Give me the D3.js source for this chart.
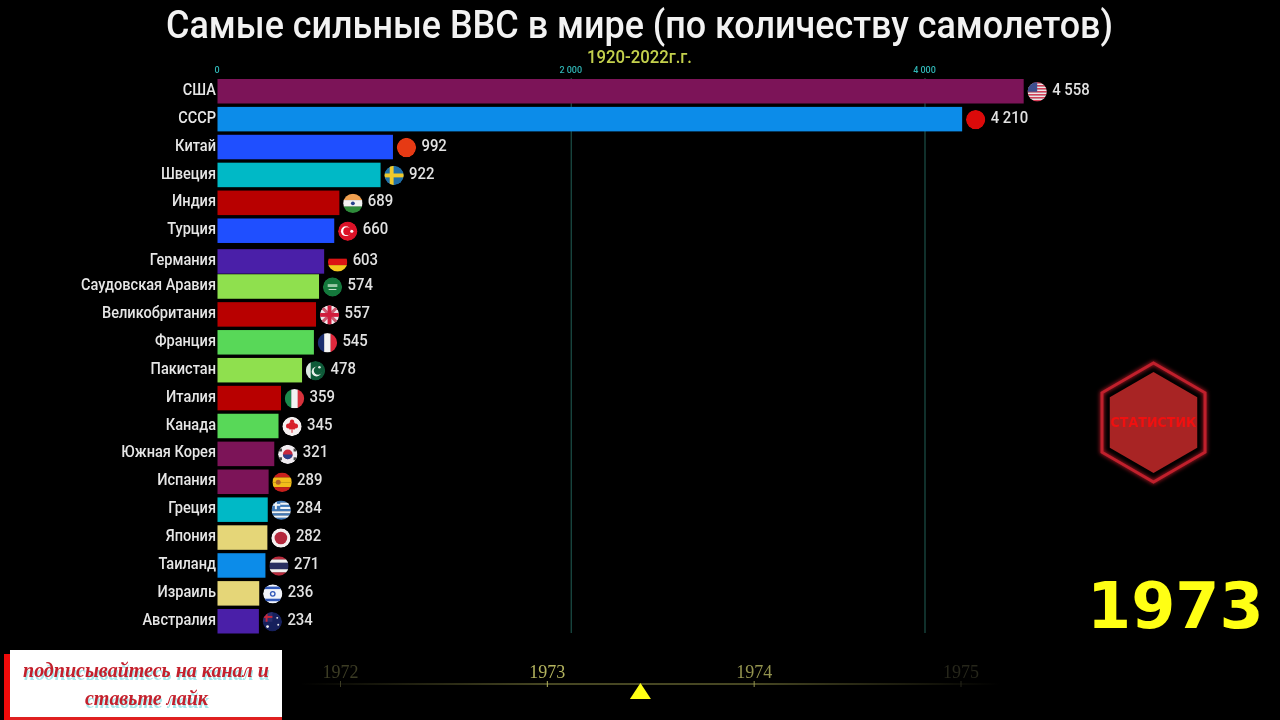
<!DOCTYPE html>
<html lang="ru">
<head>
<meta charset="utf-8">
<title>Самые сильные ВВС в мире</title>
<script src="https://cdn.jsdelivr.net/npm/d3@7"></script>
<style>
  html, body { margin: 0; padding: 0; background: #000; overflow: hidden; }
  svg { display: block; filter: blur(0.4px); }
  text { font-family: Roboto, sans-serif; }
</style>
</head>
<body>
<div id="chart"></div>
<script>
const countries = ['США', 'СССР', 'Китай', 'Швеция', 'Индия', 'Турция', 'Германия', 'Саудовская Аравия', 'Великобритания', 'Франция', 'Пакистан', 'Италия', 'Канада', 'Южная Корея', 'Испания', 'Греция', 'Япония', 'Таиланд', 'Израиль', 'Австралия'];
const aircraft = [4558, 4210, 992, 922, 689, 660, 603, 574, 557, 545, 478, 359, 345, 321, 289, 284, 282, 271, 236, 234];
// rank is fractional where a bar was caught mid-swap in the frame
const ranks = [0, 1, 2, 3, 4, 5, 6.1, 7, 8, 9, 10, 11, 12, 13, 14, 15, 16, 17, 18, 19];
const barColors = ['#7c1458', '#0c8ce9', '#1f4fff', '#00b9c6', '#b80000', '#1f4fff', '#4a1fa8', '#8fe04e', '#b80000', '#58d858', '#8fe04e', '#b80000', '#58d858', '#7c1458', '#7c1458', '#00b9c6', '#e5d678', '#0c8ce9', '#e5d678', '#4a1fa8'];
const flagCodes = ['us', 'su', 'cn', 'se', 'in', 'tr', 'de', 'sa', 'gb', 'fr', 'pk', 'it', 'ca', 'kr', 'es', 'gr', 'jp', 'th', 'il', 'au'];
const xTicks = [0, 2000, 4000];
const years = [1972, 1973, 1974, 1975];
const yearColors = ['#3c3c24', '#b4b45e', '#94944f', '#26261a'];
const currentYear = 1973;
const cursorYear = 1973.45;

const width = 1280;
const height = 720;

const svg = d3.select('#chart')
  .append('svg')
  .attr('width', width)
  .attr('height', height);

const defs = svg.append('defs');

svg.append('rect')
  .attr('width', width)
  .attr('height', height)
  .attr('fill', '#000');

const condensedText = (sel, len) => sel
  .attr('textLength', len)
  .attr('lengthAdjust', 'spacingAndGlyphs');

svg.append('text')
  .attr('x', 166)
  .attr('y', 38)
  .attr('fill', '#f2f2f2')
  .attr('font-size', 38)
  .attr('font-weight', 500)
  .text('Самые сильные ВВС в мире (по количеству самолетов)')
  .call(condensedText, 947);

svg.append('text')
  .attr('x', 587)
  .attr('y', 63)
  .attr('fill', '#c3d04c')
  .attr('font-size', 18)
  .attr('font-weight', 500)
  .text('1920-2022г.г.')
  .call(condensedText, 105);

const x = d3.scaleLinear()
  .domain([0, 4000])
  .range([217.5, 925]);

const y = d3.scaleLinear()
  .domain([0, 19])
  .range([79, 609]);

const barHeight = 24.5;

const xAxis = d3.axisTop(x)
  .tickValues(xTicks)
  .tickSize(0)
  .tickPadding(2)
  .tickFormat(d => d3.format(',')(d).replace(',', ' '));

const axisG = svg.append('g')
  .attr('transform', 'translate(0, 75)')
  .call(xAxis);

axisG.select('.domain').remove();
axisG.selectAll('text')
  .attr('fill', '#2fb3b3')
  .attr('font-size', 9)
  .attr('font-weight', 500)
  .attr('font-family', 'Roboto, sans-serif')
  .attr('dx', -1);

svg.append('g')
  .selectAll('line')
  .data(xTicks.slice(1))
  .join('line')
  .attr('x1', d => x(d))
  .attr('x2', d => x(d))
  .attr('y1', 78)
  .attr('y2', 633)
  .attr('stroke', '#1c5048')
  .attr('stroke-width', 1.2);

const rows = countries.map((name, i) => ({
  name,
  value: aircraft[i],
  rank: ranks[i],
  color: barColors[i],
  flag: flagCodes[i],
}));

svg.append('g')
  .selectAll('rect')
  .data(rows)
  .join('rect')
  .attr('x', x(0))
  .attr('y', d => y(d.rank))
  .attr('width', d => x(d.value) - x(0))
  .attr('height', barHeight)
  .attr('fill', d => d.color);

svg.append('g')
  .selectAll('text')
  .data(rows)
  .join('text')
  .attr('x', 216)
  .attr('y', d => y(d.rank) + barHeight / 2 - 2)
  .attr('dy', '0.35em')
  .attr('text-anchor', 'end')
  .attr('fill', '#e6e6e6')
  .attr('font-size', 16)
  .attr('font-weight', 500)
  .each(function (d) {
    const el = d3.select(this).text(d.name);
    const w = this.getComputedTextLength() * 0.91;
    el.call(condensedText, w);
  });

svg.append('g')
  .selectAll('text')
  .data(rows)
  .join('text')
  .attr('x', d => x(d.value) + 28.5)
  .attr('y', d => y(d.rank) + barHeight / 2 - 2)
  .attr('dy', '0.35em')
  .attr('fill', '#e2e2e2')
  .attr('font-size', 16)
  .attr('font-weight', 500)
  .text(d => d3.format(',')(d.value).replace(',', ' '))
  .each(function () {
    d3.select(this).call(condensedText, this.getComputedTextLength() * 0.93);
  });

defs.append('clipPath')
  .attr('id', 'flag-clip')
  .append('circle')
  .attr('r', 10);

const hBands = (g, colors) => {
  const band = d3.scaleBand().domain(d3.range(colors.length)).range([-10, 10]);
  g.selectAll(null).data(colors).join('rect')
    .attr('x', -10)
    .attr('y', (d, i) => band(i))
    .attr('width', 20)
    .attr('height', band.bandwidth() + 0.2)
    .attr('fill', d => d);
};

const vBands = (g, colors) => {
  const band = d3.scaleBand().domain(d3.range(colors.length)).range([-10, 10]);
  g.selectAll(null).data(colors).join('rect')
    .attr('x', (d, i) => band(i))
    .attr('y', -10)
    .attr('width', band.bandwidth() + 0.2)
    .attr('height', 20)
    .attr('fill', d => d);
};

const box = (g, bx, by, w, h, fill) => g.append('rect')
  .attr('x', bx).attr('y', by).attr('width', w).attr('height', h).attr('fill', fill);
const disc = (g, cx, cy, r, fill) => g.append('circle')
  .attr('cx', cx).attr('cy', cy).attr('r', r).attr('fill', fill);

const flagPainters = {
  us(g) {
    hBands(g, d3.range(13).map(i => (i % 2 ? '#f2e6ea' : '#d8405a')));
    box(g, -10, -10, 10, 10, '#3d4f8f');
  },
  su(g) { disc(g, 0, 0, 10, '#dc0a0a'); },
  cn(g) { disc(g, 0, 0, 10, '#e63a14'); },
  se(g) {
    disc(g, 0, 0, 10, '#1f6fa8');
    box(g, -10, -2, 20, 4, '#f0c92a');
    box(g, -4.5, -10, 4, 20, '#f0c92a');
  },
  in(g) {
    hBands(g, ['#f0a050', '#f2f2f2', '#2e8b3a']);
    disc(g, 0, 0, 2, '#27408b');
  },
  tr(g) {
    disc(g, 0, 0, 10, '#dc1228');
    disc(g, -2, 0, 5, '#fff');
    disc(g, -0.6, 0, 4, '#dc1228');
    disc(g, 4.2, 0, 1.6, '#fff');
  },
  de(g) { hBands(g, ['#000', '#dc1414', '#f4c81e']); },
  sa(g) {
    disc(g, 0, 0, 10, '#14783c');
    box(g, -5, -3, 10, 3, '#9bc9a8');
    box(g, -4, 2, 8, 1, '#cfe5d5');
  },
  gb(g) {
    disc(g, 0, 0, 10, '#f0e8ec');
    [[-10, -10, 10, 10], [-10, 10, 10, -10]].forEach(c => g.append('line')
      .attr('x1', c[0]).attr('y1', c[1]).attr('x2', c[2]).attr('y2', c[3])
      .attr('stroke', '#c85a70').attr('stroke-width', 3));
    box(g, -10, -2, 20, 4, '#d01c3c');
    box(g, -2, -10, 4, 20, '#d01c3c');
  },
  fr(g) { vBands(g, ['#1c2f70', '#f5f5f5', '#e0283c']); },
  pk(g) {
    disc(g, 0, 0, 10, '#0e5a38');
    box(g, -10, -10, 5, 20, '#dfe8e2');
    disc(g, 1, 1, 5, '#e8f0ea');
    disc(g, 2.6, -0.3, 4.4, '#0e5a38');
    disc(g, 4, -3.5, 1.3, '#e8f0ea');
  },
  it(g) { vBands(g, ['#1c8a4c', '#f2f2f2', '#d8323c']); },
  ca(g) {
    disc(g, 0, 0, 10, '#f5f0f0');
    box(g, -3, -4, 6, 7, '#d8202a');
    disc(g, -3.6, -0.5, 2.6, '#d8202a');
    disc(g, 3.6, -0.5, 2.6, '#d8202a');
    disc(g, 0, -5, 2.2, '#d8202a');
    box(g, -0.5, 3, 1, 3.5, '#d8202a');
  },
  kr(g) {
    disc(g, 0, 0, 10, '#f0ecf0');
    disc(g, 0, 0, 5, '#c8283c');
    g.append('path').attr('d', d3.arc()({ innerRadius: 0, outerRadius: 5, startAngle: Math.PI / 2, endAngle: 3 * Math.PI / 2 })).attr('fill', '#2a3f8a');
    box(g, -9, -6, 3, 3, '#444');
    box(g, 6, -6, 3, 3, '#444');
    box(g, -9, 3, 3, 3, '#444');
    box(g, 6, 3, 3, 3, '#444');
  },
  es(g) {
    hBands(g, ['#c8201c', '#f2bc1a', '#f2bc1a', '#c8201c']);
    disc(g, -4, 0, 2.6, '#b0602a');
  },
  gr(g) {
    hBands(g, d3.range(9).map(i => (i % 2 ? '#f0f4f8' : '#3f78b8')));
    box(g, -10, -10, 9, 9, '#3f78b8');
    box(g, -10, -6.5, 9, 2, '#f0f4f8');
    box(g, -6.5, -10, 2, 9, '#f0f4f8');
  },
  jp(g) {
    disc(g, 0, 0, 10, '#f5f0f0');
    disc(g, 0, 0, 6.5, '#b4283c');
  },
  th(g) { hBands(g, ['#b82a3c', '#f0f0f0', '#2a2f60', '#2a2f60', '#f0f0f0', '#b82a3c']); },
  il(g) {
    disc(g, 0, 0, 10, '#f2f4fa');
    box(g, -10, -7.5, 20, 2.6, '#3158b8');
    box(g, -10, 5, 20, 2.6, '#3158b8');
    disc(g, 0, 0, 3, '#3158b8');
    disc(g, 0, 0, 1.6, '#f2f4fa');
  },
  au(g) {
    disc(g, 0, 0, 10, '#16205c');
    box(g, -10, -10, 10, 10, '#2a2f6c');
    box(g, -7, -10, 2, 10, '#c8283c');
    box(g, -10, -6, 10, 2, '#c8283c');
    disc(g, -5, 5, 1.4, '#eee');
    disc(g, 5, -4, 1, '#eee');
    disc(g, 6, 3, 1, '#eee');
  },
};

const flags = svg.append('g')
  .selectAll('g')
  .data(rows)
  .join('g')
  .attr('transform', d => `translate(${x(d.value) + 13.5}, ${y(d.rank) + barHeight / 2 + 0.5}) scale(0.97)`)
  .append('g')
  .attr('clip-path', 'url(#flag-clip)');

flags.each(function (d) {
  flagPainters[d.flag](d3.select(this));
});

// channel badge
const badge = svg.append('g')
  .attr('transform', 'translate(1153.5, 422.5)');

const hexPoints = r => d3.range(6)
  .map(i => [r * Math.sin((i * Math.PI) / 3), -r * Math.cos((i * Math.PI) / 3)]
    .join(','))
  .join(' ');

badge.append('polygon')
  .attr('points', hexPoints(59.5))
  .attr('fill', 'none')
  .attr('stroke', '#c0202c')
  .attr('stroke-width', 3)
  .style('filter', 'drop-shadow(0 0 2px #e02030)');

badge.append('polygon')
  .attr('points', hexPoints(50.5))
  .attr('fill', '#a82424');

badge.append('text')
  .attr('y', 4)
  .attr('text-anchor', 'middle')
  .attr('fill', '#f01010')
  .attr('font-size', 14)
  .attr('font-weight', 700)
  .attr('font-family', '"DejaVu Sans", sans-serif')
  .attr('style', 'font-family: "DejaVu Sans", sans-serif')
  .text('СТАТИСТИК')
  .call(condensedText, 86);

svg.append('text')
  .attr('x', 1087)
  .attr('y', 628)
  .attr('fill', '#ffff14')
  .attr('font-size', 63.5)
  .attr('font-weight', 700)
  .attr('style', 'font-family: "DejaVu Sans", sans-serif')
  .text(currentYear);

// year timeline
const timeX = d3.scaleLinear()
  .domain([1972, 1975])
  .range([340.5, 961]);

const fade = defs.append('linearGradient')
  .attr('id', 'timeline-fade')
  .attr('gradientUnits', 'userSpaceOnUse')
  .attr('x1', 300).attr('x2', 1000).attr('y1', 0).attr('y2', 0);
[[0, '#000'], [0.35, '#5e5e2e'], [0.65, '#5e5e2e'], [1, '#000']].forEach(s => {
  fade.append('stop').attr('offset', s[0]).attr('stop-color', s[1]);
});

const timeline = svg.append('g')
  .attr('transform', 'translate(0, 684)');

timeline.append('rect')
  .attr('x', 300)
  .attr('y', -0.75)
  .attr('width', 700)
  .attr('height', 1.5)
  .attr('fill', 'url(#timeline-fade)');

timeline.selectAll('line')
  .data(years)
  .join('line')
  .attr('x1', d => timeX(d))
  .attr('x2', d => timeX(d))
  .attr('y1', -3)
  .attr('y2', 3)
  .attr('stroke', (d, i) => yearColors[i])
  .attr('stroke-width', 1);

timeline.selectAll('text')
  .data(years)
  .join('text')
  .attr('x', d => timeX(d))
  .attr('y', -6)
  .attr('text-anchor', 'middle')
  .attr('fill', (d, i) => yearColors[i])
  .attr('font-size', 18)
  .attr('style', 'font-family: "Liberation Serif", serif')
  .text(d => d);

timeline.append('path')
  .attr('transform', `translate(${timeX(cursorYear)}, 0)`)
  .attr('d', d3.line()([[0, -1], [10.5, 15], [-10.5, 15]]) + 'Z')
  .attr('fill', '#ffff14');

// subscribe banner
const banner = svg.append('g');

banner.append('rect')
  .attr('x', 4).attr('y', 654).attr('width', 8).attr('height', 66)
  .attr('fill', '#f00a0a');

banner.append('rect')
  .attr('x', 10).attr('y', 650).attr('width', 272).attr('height', 68)
  .attr('fill', '#fff');

banner.append('rect')
  .attr('x', 10).attr('y', 717).attr('width', 272).attr('height', 3)
  .attr('fill', '#e02020');

const bannerLines = [
  { text: 'подписывайтесь на канал и', x: 23, y: 677, len: 246 },
  { text: 'ставьте лайк', x: 85, y: 705, len: 123 },
];

// cyan shadow comes from a filter so each line stays a single text
banner.append('g')
  .style('filter', 'drop-shadow(1.5px 3px 0.5px #a5e6ea)')
  .selectAll('text')
  .data(bannerLines)
  .join('text')
  .attr('x', d => d.x)
  .attr('y', d => d.y)
  .attr('fill', '#c4202c')
  .attr('font-size', 21)
  .attr('font-style', 'italic')
  .attr('font-weight', 700)
  .attr('style', 'font-family: "Liberation Serif", serif')
  .text(d => d.text)
  .each(function (d) {
    d3.select(this).call(condensedText, d.len);
  });
</script>
</body>
</html>
